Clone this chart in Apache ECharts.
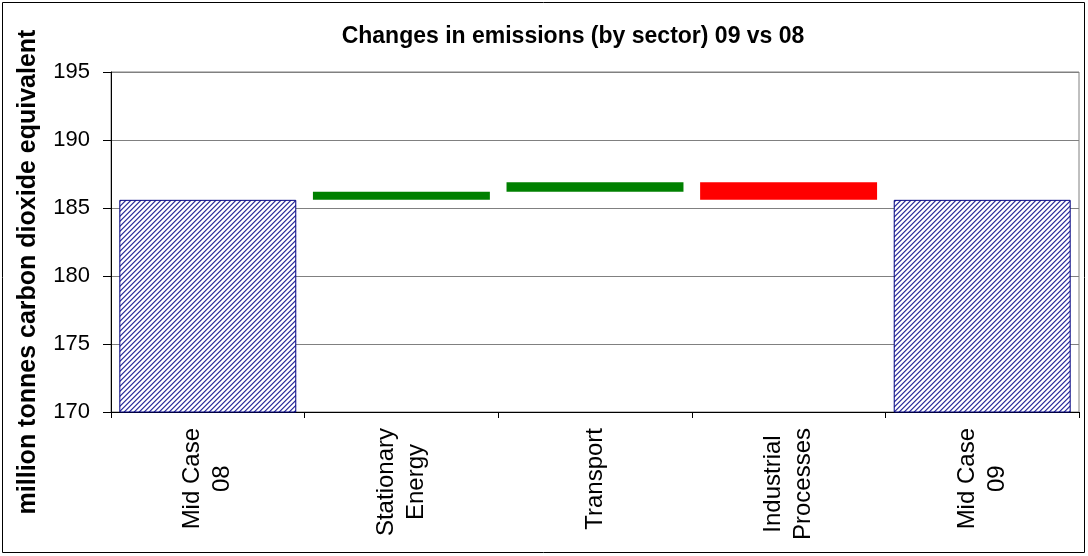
<!DOCTYPE html>
<html>
<head>
<meta charset="utf-8">
<script src="https://cdn.jsdelivr.net/npm/echarts@6/dist/echarts.min.js"></script>
<style>
  html, body { margin: 0; padding: 0; background: #ffffff; }
  #chart { width: 1088px; height: 556px; }
</style>
</head>
<body>
<div id="chart"></div>
<script>
// Waterfall: emissions by sector, 2009 compared with 2008
const categories = ['Mid Case\n08', 'Stationary\nEnergy', 'Transport', 'Industrial\nProcesses', 'Mid Case\n09'];
const midCase08 = 185.6;
const sectorChanges = [0.6, 0.7, -1.3];   // Stationary Energy, Transport, Industrial Processes
const midCase09 = 185.6;
const yTicks = [170, 175, 180, 185, 190, 195];

const FONT = '"Liberation Sans", Arial, Helvetica, sans-serif';

// diagonal hatch fill for the two totals
function hatchPattern() {
  const n = 5;
  const c = document.createElement('canvas');
  c.width = n; c.height = n;
  const g = c.getContext('2d');
  g.fillStyle = '#ffffff';
  g.fillRect(0, 0, n, n);
  for (let x = 0; x < n; x++) {
    for (let y = 0; y < n; y++) {
      const k = (x + y) % n;
      if (k === 0) { g.fillStyle = '#3535a0'; g.fillRect(x, y, 1, 1); }
      else if (k === 1) { g.fillStyle = '#8c8cc8'; g.fillRect(x, y, 1, 1); }
      else if (k === 4) { g.fillStyle = '#d6d6ec'; g.fillRect(x, y, 1, 1); }
    }
  }
  return { image: c, repeat: 'repeat' };
}

// running totals -> invisible base + visible step for each sector
const baseValues = [0];
const stepItems = [{ value: midCase08, itemStyle: { color: hatchPattern(), borderColor: '#000080', borderWidth: 1 } }];
let running = midCase08;
sectorChanges.forEach(function (d) {
  const next = running + d;
  baseValues.push(Math.min(running, next));
  stepItems.push({ value: Math.abs(d), itemStyle: { color: d >= 0 ? '#008000' : '#ff0000' } });
  running = next;
});
baseValues.push(0);
stepItems.push({ value: midCase09, itemStyle: { color: hatchPattern(), borderColor: '#000080', borderWidth: 1 } });

const chart = echarts.init(document.getElementById('chart'), null, { renderer: 'canvas' });

chart.setOption({
  animation: false,
  backgroundColor: '#ffffff',
  textStyle: { fontFamily: FONT },
  title: {
    text: 'Changes in emissions (by sector) 09 vs 08',
    left: 568,
    textAlign: 'center',
    top: 20,
    textStyle: { fontFamily: FONT, fontSize: 23, fontWeight: 'bold', color: '#000000' }
  },
  grid: {
    left: 111, right: 9, top: 72, bottom: 144,
    show: true, borderColor: '#808080', borderWidth: 1, backgroundColor: 'transparent'
  },
  xAxis: {
    type: 'category',
    data: categories,
    boundaryGap: true,
    axisLine: { lineStyle: { color: '#000000', width: 1 } },
    axisTick: { show: true, length: 6, lineStyle: { color: '#000000' } },
    axisLabel: {
      rotate: 90,
      margin: 16,
      interval: 0,
      color: '#000000',
      fontFamily: FONT,
      fontSize: 24,
      lineHeight: 30,
      formatter: function (v) {
        return v.split('\n').map(function (s) { return '{c|' + s + '}'; }).join('\n');
      },
      rich: { c: { align: 'center', fontFamily: FONT, fontSize: 24, lineHeight: 30, color: '#000000' } }
    }
  },
  yAxis: {
    type: 'value',
    min: yTicks[0],
    max: yTicks[yTicks.length - 1],
    interval: 5,
    axisLine: { show: true, lineStyle: { color: '#000000', width: 1 } },
    axisTick: { show: true, length: 8, lineStyle: { color: '#000000' } },
    axisLabel: { margin: 21, color: '#000000', fontFamily: FONT, fontSize: 22 },
    splitLine: { show: true, lineStyle: { color: '#808080', width: 1 } }
  },
  series: [
    {
      name: 'base',
      type: 'bar',
      stack: 'wf',
      data: baseValues,
      itemStyle: { color: 'transparent' },
      barCategoryGap: '8.6%',
      silent: true
    },
    {
      name: 'step',
      type: 'bar',
      stack: 'wf',
      data: stepItems,
      barCategoryGap: '8.6%'
    }
  ],
  graphic: [
    {
      type: 'text',
      x: 28, y: 272,
      rotation: Math.PI / 2,
      style: {
        text: 'million tonnes carbon dioxide equivalent',
        font: 'bold 25px ' + FONT,
        fill: '#000000',
        align: 'center',
        verticalAlign: 'middle'
      }
    },
    {
      type: 'rect',
      shape: { x: 2.5, y: 2.5, width: 1082, height: 550 },
      style: { fill: 'none', stroke: '#000000', lineWidth: 1 },
      silent: true
    }
  ]
});
</script>
</body>
</html>
